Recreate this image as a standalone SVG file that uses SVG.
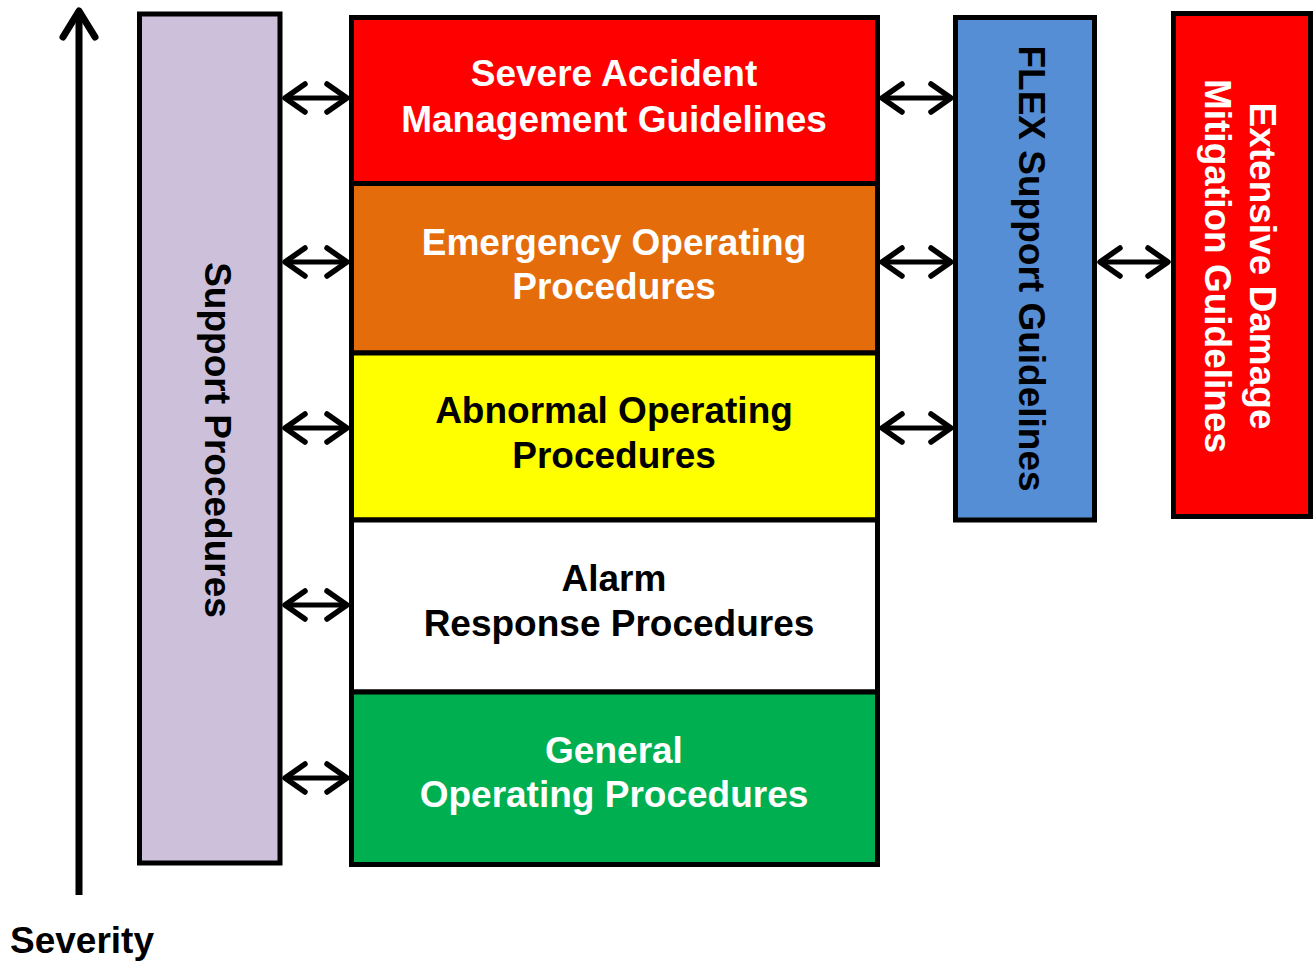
<svg xmlns="http://www.w3.org/2000/svg" width="1314" height="961" viewBox="0 0 1314 961">
<defs>
<style>
.box{stroke:#000;stroke-width:5}
.t{font-family:"Liberation Sans",Arial,sans-serif;font-weight:bold;font-size:37px;text-anchor:middle}
.w{fill:#fff}
.k{fill:#000}
.conn{stroke:#000;stroke-width:5;fill:none}
</style>
<marker id="ah" markerUnits="userSpaceOnUse" viewBox="-30 -20 36 40" refX="0" refY="0" markerWidth="36" markerHeight="40" orient="auto-start-reverse">
<path d="M-20,-14 L0,0 L-20,14" fill="none" stroke="#000" stroke-width="5.5" stroke-linecap="round" stroke-linejoin="round"/>
</marker>
<marker id="big" markerUnits="userSpaceOnUse" viewBox="-34 -24 40 48" refX="0" refY="0" markerWidth="40" markerHeight="48" orient="auto">
<path d="M-26,-16 L0,0 L-26,16" fill="none" stroke="#000" stroke-width="7" stroke-linecap="round" stroke-linejoin="round"/>
</marker>
</defs>
<rect width="1314" height="961" fill="#fff"/>

<g id="severity">
<line x1="79" y1="895" x2="79" y2="11" stroke="#000" stroke-width="7" marker-end="url(#big)"/>
<text class="t k" x="10" y="953" style="text-anchor:start">Severity</text>
</g>

<g id="support">
<rect class="box" x="139.5" y="14" width="140.5" height="849" fill="#CCC0DA"/>
<text class="t k" transform="translate(205,440) rotate(90)">Support Procedures</text>
</g>

<g id="samg">
<rect class="box" x="351.5" y="17.5" width="526" height="166" fill="#FF0000"/>
<text class="t w" x="614" y="86">Severe Accident</text>
<text class="t w" x="614" y="132">Management Guidelines</text>
</g>

<g id="eop">
<rect class="box" x="351.5" y="183.5" width="526" height="169.5" fill="#E46C0A"/>
<text class="t w" x="614" y="255">Emergency Operating</text>
<text class="t w" x="614" y="299">Procedures</text>
</g>

<g id="aop">
<rect class="box" x="351.5" y="353" width="526" height="167" fill="#FFFF00"/>
<text class="t k" x="614" y="423">Abnormal Operating</text>
<text class="t k" x="614" y="468">Procedures</text>
</g>

<g id="arp">
<rect class="box" x="351.5" y="520" width="526" height="172" fill="#FFFFFF"/>
<text class="t k" x="614" y="591">Alarm</text>
<text class="t k" x="619" y="636">Response Procedures</text>
</g>

<g id="gop">
<rect class="box" x="351.5" y="692" width="526" height="172.5" fill="#00B050"/>
<text class="t w" x="614" y="763">General</text>
<text class="t w" x="614" y="807">Operating Procedures</text>
</g>

<g id="flex">
<rect class="box" x="955.5" y="17.5" width="139" height="502.5" fill="#558ED5"/>
<text class="t k" transform="translate(1019,268.5) rotate(90)">FLEX Support Guidelines</text>
</g>

<g id="edmg">
<rect class="box" x="1173.5" y="13.5" width="137" height="503" fill="#FF0000"/>
<text class="t w" transform="translate(1250,266) rotate(90)">Extensive Damage</text>
<text class="t w" transform="translate(1205,266) rotate(90)">Mitigation Guidelines</text>
</g>

<g id="connectors">
<line class="conn" x1="285" y1="98" x2="347" y2="98" marker-start="url(#ah)" marker-end="url(#ah)"/>
<line class="conn" x1="285" y1="262" x2="347" y2="262" marker-start="url(#ah)" marker-end="url(#ah)"/>
<line class="conn" x1="285" y1="428" x2="347" y2="428" marker-start="url(#ah)" marker-end="url(#ah)"/>
<line class="conn" x1="285" y1="605" x2="347" y2="605" marker-start="url(#ah)" marker-end="url(#ah)"/>
<line class="conn" x1="285" y1="778" x2="347" y2="778" marker-start="url(#ah)" marker-end="url(#ah)"/>
<line class="conn" x1="882" y1="98" x2="951" y2="98" marker-start="url(#ah)" marker-end="url(#ah)"/>
<line class="conn" x1="882" y1="262" x2="951" y2="262" marker-start="url(#ah)" marker-end="url(#ah)"/>
<line class="conn" x1="882" y1="428" x2="951" y2="428" marker-start="url(#ah)" marker-end="url(#ah)"/>
<line class="conn" x1="1100" y1="262" x2="1168" y2="262" marker-start="url(#ah)" marker-end="url(#ah)"/>
</g>
</svg>
